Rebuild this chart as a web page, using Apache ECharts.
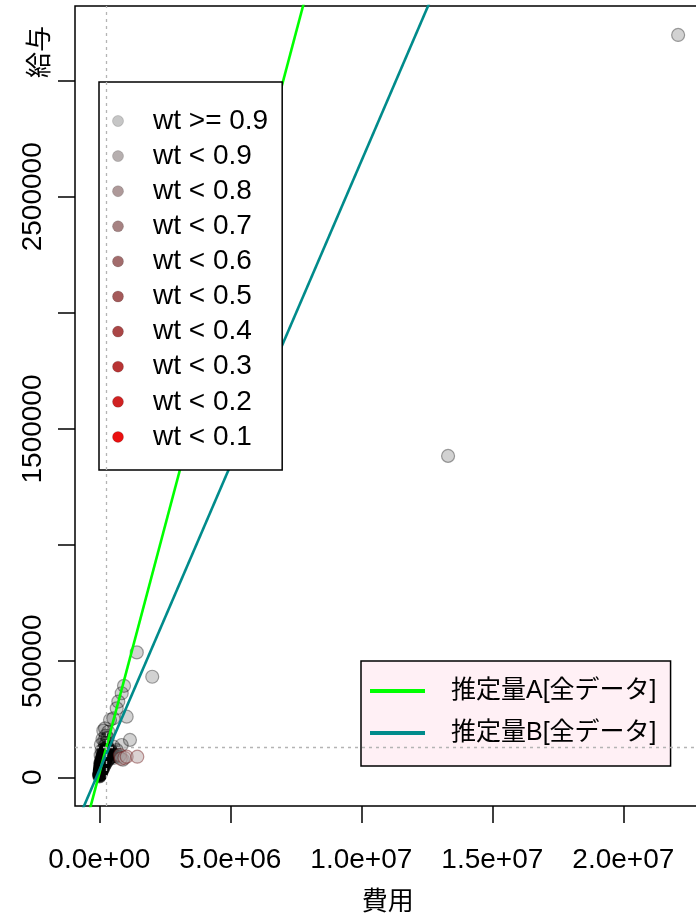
<!DOCTYPE html>
<html>
<head>
<meta charset="utf-8">
<script src="https://cdn.jsdelivr.net/npm/echarts@6/dist/echarts.min.js"></script>
<style>
  html, body { margin: 0; padding: 0; background: #fff; }
  #chart { width: 696px; height: 920px; }
</style>
</head>
<body>
<div id="chart"></div>
<script>
// 費用 (x) and 給与 (y) for each record, with its weight group (index into wtLabels)
const costs = [
  22090000, 13310000, 1430000, 2020000, 943000, 855000, 725000, 664000, 1045000, 534000,
  408000, 218000, 153000, 344000, 1170000, 855000, 664000, 534000, 1045000, 1450000, 790000,
  12000, 18000, 25000, 30000, 36000, 42000, 48000, 55000, 60000, 66000,
  72000, 78000, 84000, 90000, 96000, 102000, 108000, 115000, 122000, 130000,
  138000, 146000, 155000, 165000, 175000, 185000, 196000, 208000, 220000, 232000,
  245000, 260000, 275000, 290000, 310000, 330000, 350000, 375000, 20000, 32000,
  45000, 58000, 70000, 85000, 100000, 118000, 135000, 150000, 170000, 190000,
  60000, 80000, 100000, 125000, 150000, 175000, 200000, 230000, 260000, 300000,
  340000, 390000, 440000, 500000, 560000, 620000, 680000, 740000, 820000, 900000,
  960000, 420000, 470000, 520000, 600000, 40000, 70000, 110000, 160000, 210000,
  270000, 120000, 60000, 250000, 190000, 320000, 90000, 230000, 50000, 140000,
  8000, 15000, 22000, 28000, 35000, 44000, 52000, 64000, 76000, 88000,
  30000, 50000, 80000, 110000, 140000, 170000, 210000, 250000, 300000, 360000,
  3000, 6000, 10000, 14000, 5000, 9000, 16000, 22000, 26000, 34000,
  40000, 46000, 52000, 62000, 68000, 74000, 82000, 92000, 104000, 112000,
  126000, 134000, 144000, 156000, 166000, 178000, 186000, 198000, 212000, 224000,
  236000, 248000, 264000, 280000, 295000, 310000, 120000, 132000, 96000, 86000,
  76000, 66000, 56000, 150000, 162000, 174000, 200000, 240000
];
const salaries = [
  3197000, 1384000, 538000, 433000, 394000, 362000, 326000, 297000, 261000, 254000,
  247000, 211000, 201000, 196000, 161000, 139000, 117000, 132000, 88700, 88700, 96000,
  14000, 20000, 16000, 24000, 19000, 28000, 22000, 32000, 26000, 36000,
  30000, 40000, 34000, 44000, 38000, 48000, 42000, 52000, 46000, 56000,
  50000, 60000, 54000, 64000, 58000, 70000, 64000, 76000, 70000, 82000,
  76000, 90000, 84000, 98000, 92000, 106000, 100000, 112000, 32000, 38000,
  45000, 50000, 58000, 64000, 72000, 80000, 88000, 96000, 104000, 112000,
  16000, 22000, 28000, 34000, 40000, 46000, 52000, 58000, 64000, 70000,
  76000, 82000, 86000, 90000, 84000, 92000, 98000, 88000, 80000, 76000,
  84000, 104000, 110000, 100000, 108000, 60000, 75000, 90000, 120000, 135000,
  150000, 165000, 140000, 180000, 160000, 170000, 115000, 125000, 95000, 108000,
  10000, 12000, 18000, 15000, 26000, 21000, 34000, 30000, 42000, 39000,
  50000, 62000, 70000, 78000, 86000, 94000, 100000, 96000, 110000, 122000,
  4000, 8000, 5000, 9000, 14000, 18000, 24000, 28000, 10000, 14000,
  18000, 36000, 40000, 44000, 48000, 52000, 56000, 60000, 66000, 70000,
  74000, 80000, 84000, 90000, 96000, 100000, 86000, 92000, 98000, 104000,
  110000, 116000, 120000, 126000, 118000, 130000, 60000, 64000, 54000, 46000,
  44000, 40000, 36000, 76000, 82000, 74000, 80000, 88000
];
const wtGroup = [
  0, 0, 0, 0, 0, 0, 0, 0, 0, 0,
  0, 0, 0, 0, 0, 0, 0, 0, 2, 2, 1,
  0, 0, 0, 0, 0, 0, 0, 0, 0, 0,
  0, 0, 0, 0, 0, 0, 0, 0, 0, 0,
  0, 0, 0, 0, 0, 0, 0, 0, 0, 0,
  0, 0, 0, 0, 0, 0, 0, 0, 0, 0,
  0, 0, 0, 0, 0, 0, 0, 0, 0, 0,
  0, 0, 0, 0, 0, 0, 0, 0, 0, 0,
  0, 0, 0, 0, 0, 0, 0, 0, 1, 0,
  1, 0, 0, 0, 0, 0, 0, 0, 0, 0,
  0, 0, 0, 0, 0, 0, 0, 0, 0, 0,
  0, 0, 0, 0, 0, 0, 0, 0, 0, 0,
  0, 0, 0, 0, 0, 0, 0, 0, 0, 0,
  0, 0, 0, 0, 0, 0, 0, 0, 0, 0,
  0, 0, 0, 0, 0, 0, 0, 0, 0, 0,
  0, 0, 0, 0, 0, 0, 0, 0, 0, 0,
  0, 0, 0, 0, 0, 0, 0, 0, 0, 0,
  0, 0, 0, 0, 0, 0, 0, 0
];

// weight groups
const wtLabels = ['wt >= 0.9', 'wt < 0.9', 'wt < 0.8', 'wt < 0.7', 'wt < 0.6',
                  'wt < 0.5', 'wt < 0.4', 'wt < 0.3', 'wt < 0.2', 'wt < 0.1'];
const wtColors = ['#c6c6c6', '#b6afaf', '#ae9999', '#a68282', '#a26c6c',
                  '#a45a5a', '#aa4646', '#b83434', '#d02222', '#ea1010'];

// fitted lines: intercept and slope
const lineNames = ['推定量A[全データ]', '推定量B[全データ]'];
const lineIntercepts = [15900, 29600];
const lineSlopes = [0.4252, 0.2624];
const lineColors = ['#00ff00', '#008b8b'];

// mean reference lines
const meanCost = 282000;
const meanSalary = 129200;

// axes
const xMin = -927500, xMax = 22940000;
const yMin = -123600, yMax = 3321700;
const xTicks = [0, 5000000, 10000000, 15000000, 20000000];
const xTickLabels = ['0.0e+00', '5.0e+06', '1.0e+07', '1.5e+07', '2.0e+07'];
const yTicks = [0, 500000, 1000000, 1500000, 2000000, 2500000, 3000000];
const yLabelTicks = [0, 500000, 1500000, 2500000];

const FONT = '"Liberation Sans", Arial, "Noto Sans CJK JP", sans-serif';

function hexToRgba(hex, a) {
  const n = parseInt(hex.slice(1), 16);
  return 'rgba(' + ((n >> 16) & 255) + ',' + ((n >> 8) & 255) + ',' + (n & 255) + ',' + a + ')';
}

const series = [];
wtLabels.forEach(function (name, g) {
  const pts = [];
  for (let i = 0; i < costs.length; i++) {
    if (wtGroup[i] === g) pts.push([costs[i], salaries[i]]);
  }
  const s = {
    name: name,
    type: 'scatter',
    data: pts,
    symbol: 'circle',
    symbolSize: 13,
    z: 2,
    itemStyle: {
      // translucent fill so that dense clusters build up to black
      color: g === 0 ? 'rgba(0,0,0,0.22)' : hexToRgba(wtColors[g], 0.55),
      borderColor: g === 0 ? 'rgba(0,0,0,0.45)' : 'rgba(110,20,20,0.55)',
      borderWidth: 1.2
    },
    emphasis: { disabled: true },
    silent: true
  };
  if (g === 0) {
    s.markLine = {
      silent: true,
      symbol: 'none',
      label: { show: false },
      lineStyle: { color: '#b4b4b4', type: [3, 4], width: 1.3 },
      data: [{ xAxis: meanCost }, { yAxis: meanSalary }]
    };
  }
  series.push(s);
});

lineNames.forEach(function (name, k) {
  series.push({
    name: name,
    type: 'line',
    data: [
      [xMin, lineIntercepts[k] + lineSlopes[k] * xMin],
      [xMax, lineIntercepts[k] + lineSlopes[k] * xMax]
    ],
    showSymbol: false,
    symbol: 'none',
    clip: true,
    z: 3,
    lineStyle: { color: lineColors[k], width: 2.6 },
    itemStyle: { color: lineColors[k] },
    emphasis: { disabled: true },
    silent: true
  });
});

const chart = echarts.init(document.getElementById('chart'), null, { renderer: 'canvas' });
chart.setOption({
  animation: false,
  backgroundColor: '#ffffff',
  grid: {
    left: 75, top: 6, width: 625.4, height: 800,
    outerBoundsMode: 'none', containLabel: false,
    show: true, borderColor: '#000', borderWidth: 1.5, backgroundColor: 'transparent'
  },
  xAxis: {
    type: 'value', min: xMin, max: xMax,
    name: '費用', nameLocation: 'middle', nameGap: 84,
    nameTextStyle: { fontFamily: FONT, fontSize: 26, color: '#000' },
    axisLine: { show: false, onZero: false },
    axisTick: { show: true, length: 17, lineStyle: { color: '#000', width: 1.5 }, customValues: xTicks },
    axisLabel: {
      fontFamily: FONT, fontSize: 28, color: '#000', margin: 40,
      customValues: xTicks,
      formatter: function (v) { const i = xTicks.indexOf(v); return i >= 0 ? xTickLabels[i] : ''; }
    },
    splitLine: { show: false }
  },
  yAxis: {
    type: 'value', min: yMin, max: yMax,
    axisLine: { show: false, onZero: false },
    axisTick: { show: true, length: 17, lineStyle: { color: '#000', width: 1.5 }, customValues: yTicks },
    axisLabel: {
      fontFamily: FONT, fontSize: 28, color: '#000', margin: 28, rotate: 90,
      customValues: yLabelTicks,
      formatter: function (v) { return String(v); }
    },
    splitLine: { show: false }
  },
  legend: [
    {
      orient: 'vertical', left: 99, top: 82,
      data: wtLabels.map(function (n, i) {
        return { name: n, itemStyle: { color: wtColors[i], opacity: 1, borderColor: 'rgba(0,0,0,0.15)', borderWidth: 1 } };
      }),
      icon: 'circle', itemWidth: 30, itemHeight: 11, itemGap: 5.1,
      padding: [24, 14, 18, 13],
      textStyle: { fontFamily: FONT, fontSize: 28, lineHeight: 30, color: '#000', padding: [0, 0, 0, 15] },
      backgroundColor: '#ffffff', borderColor: '#000', borderWidth: 1.5, borderRadius: 0,
      selectedMode: false
    },
    {
      orient: 'vertical', left: 361, top: 661,
      data: lineNames,
      icon: 'rect', itemWidth: 55, itemHeight: 4, itemGap: 12,
      padding: [15, 14, 18, 9],
      textStyle: { fontFamily: FONT, fontSize: 25, lineHeight: 30, color: '#000', padding: [0, 0, 0, 21] },
      backgroundColor: '#fff0f5', borderColor: '#000', borderWidth: 1.5, borderRadius: 0,
      selectedMode: false
    }
  ],
  graphic: [
    {
      type: 'text', x: 41, y: 52, rotation: Math.PI / 2,
      style: { text: '給与', fontFamily: FONT, fontSize: 26, fill: '#000', textAlign: 'center', textVerticalAlign: 'middle' }
    }
  ],
  series: series
});
</script>
</body>
</html>
